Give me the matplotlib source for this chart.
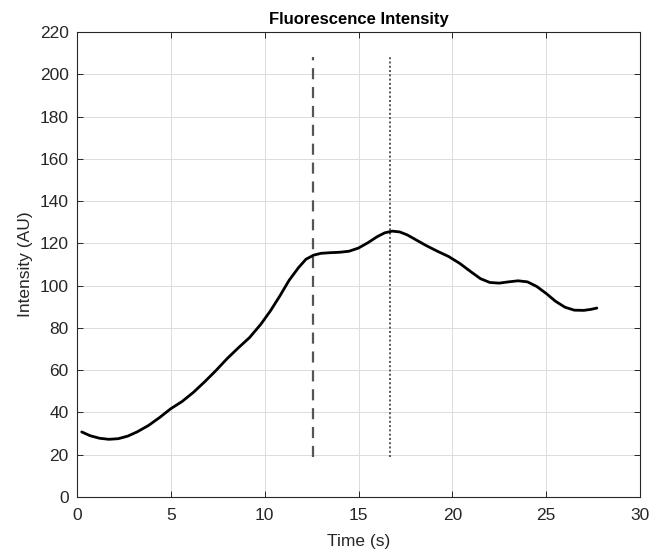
import numpy as np
import matplotlib.pyplot as plt

plt.rcParams['font.family'] = ['Liberation Sans', 'DejaVu Sans']

# fluorescence trace
time_s = [0.25, 0.7, 1.2, 1.7, 2.2, 2.7, 3.2, 3.8, 4.4, 5.0, 5.6, 6.2, 6.8,
          7.4, 8.0, 8.6, 9.2, 9.8, 10.3, 10.8, 11.3, 11.8, 12.2, 12.6, 13.0,
          13.5, 14.0, 14.5, 15.0, 15.5, 16.0, 16.4, 16.8, 17.2, 17.6, 18.0,
          18.6, 19.2, 19.8, 20.4, 21.0, 21.5, 22.0, 22.5, 23.0, 23.5, 24.0,
          24.5, 25.0, 25.5, 26.0, 26.5, 27.0, 27.4, 27.7]
intensity = [30.8, 29.0, 27.8, 27.3, 27.6, 28.8, 30.8, 33.8, 37.6, 41.8, 45.2,
             49.5, 54.5, 59.8, 65.5, 70.6, 75.5, 81.8, 88.0, 95.0, 102.5, 108.5,
             112.5, 114.4, 115.3, 115.6, 115.8, 116.3, 117.8, 120.3, 123.2,
             125.0, 125.8, 125.4, 124.0, 122.0, 119.0, 116.3, 113.8, 110.5,
             106.5, 103.3, 101.5, 101.2, 101.8, 102.3, 101.8, 99.6, 96.3, 92.6,
             89.8, 88.4, 88.3, 88.8, 89.4]

dash_x = 12.6
dot_x = 16.7
marker_span = (19, 208)

fig = plt.figure(figsize=(6.72, 5.57), dpi=100)
ax = fig.add_axes([0.1146, 0.1077, 0.8378, 0.8348])

ax.plot(time_s, intensity, color='black', linewidth=2.0, zorder=3,
        solid_joinstyle='round', solid_capstyle='round')
ax.vlines(dash_x, *marker_span, colors='#555555', linestyles=(0, (5, 3.5)), linewidth=1.6, zorder=2)
ax.vlines(dot_x, *marker_span, colors='#555555', linestyles=(0, (1, 1.2)), linewidth=1.4, zorder=2)

ax.set_xlim(0, 30)
ax.set_ylim(0, 220)
ax.set_xticks(np.arange(0, 31, 5))
ax.set_yticks(np.arange(0, 221, 20))
ax.grid(True, color='#dcdcdc', linewidth=0.7)
ax.set_axisbelow(True)

ax.tick_params(direction='in', top=True, right=True, length=4, width=0.7,
               labelsize=12.5, colors='#262626')
ax.tick_params(axis='x', pad=8)
ax.tick_params(axis='y', pad=6)
for s in ax.spines.values():
    s.set_color('#262626')
    s.set_linewidth(0.8)

ax.set_title('Fluorescence Intensity', fontsize=12, fontweight='bold', pad=6)
ax.set_xlabel('Time (s)', fontsize=12.5, color='#262626')
ax.set_ylabel('Intensity (AU)', fontsize=12.5, color='#262626')
ax.xaxis.set_label_coords(0.5, -0.08)
ax.yaxis.set_label_coords(-0.078, 0.5)

fig.savefig('out.png', dpi=100)
